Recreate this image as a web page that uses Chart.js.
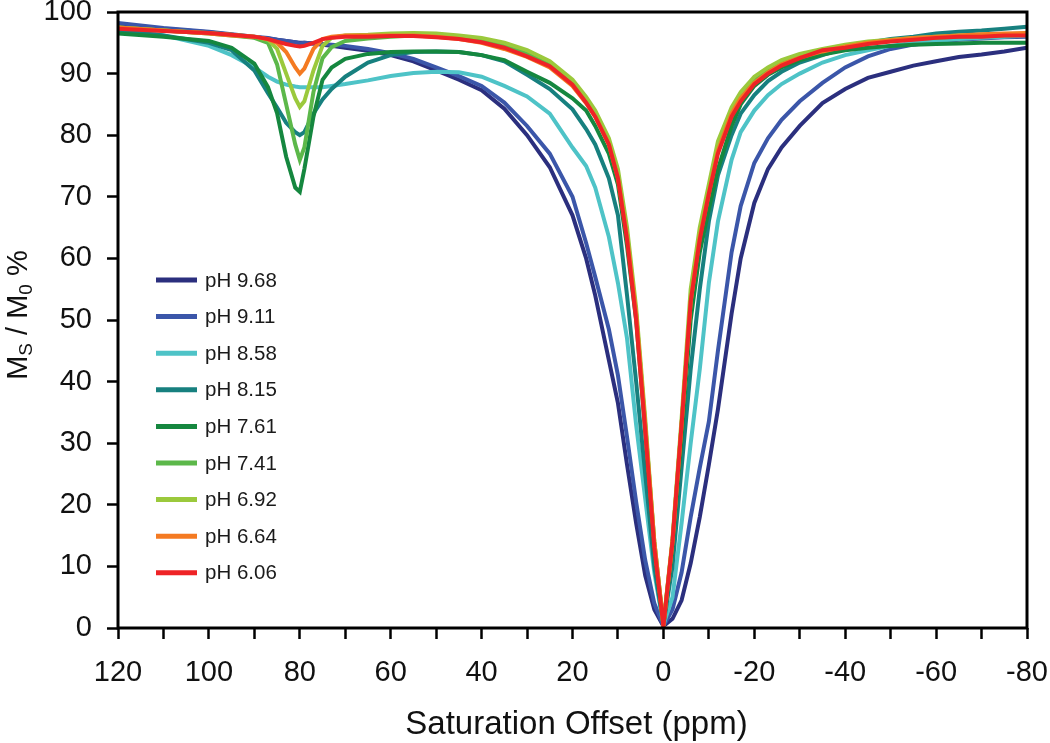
<!DOCTYPE html>
<html>
<head>
<meta charset="utf-8">
<title>Z-spectra vs pH</title>
<script src="https://cdn.jsdelivr.net/npm/chart.js@4.4.1/dist/chart.umd.min.js"></script>
<style>
  html, body { margin: 0; padding: 0; background: #fff; }
  #wrap { width: 1050px; height: 743px; position: relative; }
</style>
</head>
<body>
<div id="wrap"><canvas id="zspec"></canvas></div>
<script>
// saturation offsets (ppm) the curves were read at
const offsets = [120, 110, 100, 95, 90, 87, 85, 83, 81, 80, 79, 77, 75, 73,
  70, 65, 60, 55, 50, 45, 40, 35, 30, 25, 20,
  17, 15, 12, 10, 8, 6, 4, 2, 0,
  -2, -4, -6, -8, -10, -12,
  -15, -17, -20, -23, -26, -30,
  -35, -40, -45, -50, -55, -60, -65, -70, -75, -80];

const seriesLabels = ['pH 9.68', 'pH 9.11', 'pH 8.58', 'pH 8.15', 'pH 7.61', 'pH 7.41', 'pH 6.92', 'pH 6.64', 'pH 6.06'];
const seriesColors = ['#2b2f7e', '#3b56a9', '#4ec3c7', '#17807f', '#15873f', '#5cb84a', '#9bc93c', '#f47a22', '#ee2326'];

// Ms/M0 % per series
const ph968 = [98.0, 97.3, 96.7, 96.3, 95.9, 95.7, 95.5, 95.3, 95.1, 95.0, 95.0, 94.9, 94.7, 94.5,
  94.2, 93.7, 93.0, 92.0, 90.5, 89.0, 87.3, 84.3, 80.0, 74.8, 67.0,
  60.0, 54.0, 43.5, 36.5, 26.5, 17.0, 8.5, 3.0, 0.3,
  1.5, 4.5, 10.5, 18.0, 26.5, 35.5,
  51.0, 60.0, 69.0, 74.5, 78.0, 81.5,
  85.2, 87.5, 89.3, 90.3, 91.3, 92.0, 92.7, 93.1, 93.6, 94.2];
const ph911 = [98.2, 97.4, 96.8, 96.4, 96.0, 95.8, 95.5, 95.3, 95.1, 94.9, 95.0, 94.9, 94.8, 94.7,
  94.5, 94.0, 93.3, 92.4, 91.0, 89.6, 88.0, 85.3, 81.5, 77.0, 70.0,
  62.5, 57.0, 48.5, 41.0, 31.0, 20.5, 11.0, 4.0, 0.3,
  3.0, 9.0, 18.0, 26.0, 33.5, 45.0,
  61.0, 68.5, 75.5, 79.5, 82.5, 85.5,
  88.5, 91.0, 92.8, 94.0, 94.7, 95.2, 95.5, 95.7, 95.9, 96.0];
const ph858 = [97.5, 96.2, 94.5, 93.0, 91.0, 89.5, 88.7, 88.2, 87.9, 87.8, 87.8, 87.8, 87.8, 88.0,
  88.3, 88.9, 89.6, 90.1, 90.3, 90.2, 89.5, 88.0, 86.3, 83.5, 78.0,
  75.0, 71.5, 63.5, 56.0, 47.0, 33.0, 21.0, 9.0, 0.5,
  5.0, 17.0, 30.0, 42.0, 56.0, 66.0,
  76.0, 80.5, 84.0, 86.5, 88.3, 90.0,
  91.8, 93.0, 93.8, 94.5, 95.0, 95.3, 95.6, 95.8, 96.0, 96.2];
const ph815 = [97.0, 96.2, 95.0, 93.8, 90.5, 86.8, 84.5, 82.0, 80.5, 80.0, 80.5, 83.5, 85.8, 87.5,
  89.5, 91.8, 93.0, 93.5, 93.6, 93.5, 93.0, 92.0, 89.8, 87.5, 84.2,
  81.0, 78.5, 73.0, 67.0, 54.0, 40.0, 25.0, 10.0, 0.5,
  10.0, 26.0, 42.0, 55.0, 66.0, 73.5,
  80.0, 83.5, 86.5, 88.8, 90.3, 91.8,
  93.0, 94.2, 95.0, 95.6, 96.0, 96.5, 96.8, 97.0, 97.3, 97.6];
const ph761 = [96.5, 96.0, 95.3, 94.2, 91.6, 87.8, 83.6, 76.5, 71.5, 70.8, 74.5, 83.0, 89.0, 91.0,
  92.4, 93.2, 93.5, 93.6, 93.6, 93.5, 93.0, 92.2, 90.3, 88.5, 86.0,
  84.0, 81.5, 77.0, 72.0, 62.0, 50.0, 32.0, 13.0, 0.5,
  13.0, 31.0, 50.0, 61.0, 68.0, 74.5,
  81.5, 85.0, 88.0, 89.8, 91.0, 92.2,
  93.1, 93.8, 94.2, 94.5, 94.7, 94.8, 94.9, 95.0, 95.0, 95.0];
const ph741 = [97.5, 97.0, 96.5, 96.2, 95.8, 95.0, 91.5, 85.0, 78.5, 76.0, 78.0, 87.0, 92.5, 94.3,
  95.3, 95.7, 96.0, 96.2, 96.2, 96.0, 95.5, 94.6, 93.2, 91.4, 88.5,
  85.6, 83.2, 78.8, 73.5, 64.0, 51.0, 33.0, 14.0, 0.5,
  14.0, 33.0, 53.0, 63.5, 71.0, 77.5,
  83.5, 86.0, 88.8, 90.5, 91.7, 92.8,
  93.7, 94.5, 95.0, 95.3, 95.6, 95.8, 96.0, 96.1, 96.2, 96.3];
const ph692 = [97.5, 97.0, 96.6, 96.3, 96.0, 95.5, 94.0, 90.0, 86.0, 84.6, 85.5, 90.5, 94.5, 95.8,
  96.2, 96.3, 96.5, 96.6, 96.5, 96.2, 95.8, 95.0, 93.8, 92.0, 89.0,
  86.2, 84.0, 79.5, 74.5, 65.0, 52.0, 34.0, 14.0, 0.5,
  14.5, 34.0, 55.0, 65.0, 72.0, 79.0,
  84.5, 87.0, 89.5, 91.0, 92.2, 93.2,
  94.0, 94.7, 95.2, 95.5, 95.8, 96.0, 96.2, 96.3, 96.4, 96.5];
const ph664 = [97.5, 97.0, 96.5, 96.2, 96.0, 95.6, 95.0, 93.5, 91.0, 90.0, 90.8, 94.0, 95.6, 96.0,
  96.2, 96.2, 96.2, 96.2, 96.0, 95.6, 95.0, 94.0, 92.7, 91.0, 88.0,
  85.2, 83.0, 78.5, 73.0, 63.5, 51.0, 33.0, 14.0, 0.5,
  14.0, 33.0, 53.0, 63.5, 70.5, 77.5,
  83.5, 86.0, 88.5, 90.2, 91.5, 92.6,
  93.6, 94.4, 95.0, 95.4, 95.8, 96.0, 96.2, 96.4, 96.5, 96.6];
const ph606 = [97.3, 96.9, 96.6, 96.3, 96.0, 95.6, 95.2, 94.8, 94.5, 94.4, 94.5, 95.0, 95.6, 95.8,
  96.0, 96.0, 96.1, 96.1, 95.9, 95.6, 95.1, 94.2, 92.8, 91.2, 88.2,
  85.3, 83.0, 78.5, 73.0, 63.0, 50.0, 32.0, 13.0, 0.3,
  14.0, 33.0, 53.0, 63.0, 70.5, 77.0,
  83.0, 85.5, 88.3, 90.0, 91.3, 92.5,
  93.8, 94.2, 94.8, 95.2, 95.5, 95.8, 96.0, 96.0, 96.2, 96.2];

const seriesValues = [ph968, ph911, ph858, ph815, ph761, ph741, ph692, ph664, ph606];

const xTickLabels = [120, 100, 80, 60, 40, 20, 0, -20, -40, -60, -80];
const yTickLabels = [0, 10, 20, 30, 40, 50, 60, 70, 80, 90, 100];
const xTitle = 'Saturation Offset (ppm)';
const yTitleParts = [
  { t: 'M', sub: false }, { t: 'S', sub: true },
  { t: ' / M', sub: false }, { t: '0', sub: true },
  { t: ' %', sub: false }
];

const FONT = '"Liberation Sans", Arial, sans-serif';

const datasets = seriesValues.map((vals, i) => ({
  label: seriesLabels[i],
  data: offsets.map((x, j) => ({ x: x, y: vals[j] })),
  borderColor: seriesColors[i],
  backgroundColor: seriesColors[i],
  borderWidth: 4,
  pointRadius: 0,
  tension: 0,
  fill: false,
  order: seriesValues.length - 1 - i   // red ends up on top
}));

// frame, axis titles and the in-plot legend
const decorations = {
  id: 'decorations',
  afterDraw(chart) {
    const { ctx, chartArea: a } = chart;
    ctx.save();

    ctx.strokeStyle = '#000';
    ctx.lineWidth = 3;
    ctx.strokeRect(a.left, a.top, a.right - a.left, a.bottom - a.top);

    ctx.fillStyle = '#111';
    ctx.font = `33px ${FONT}`;
    ctx.textAlign = 'center';
    ctx.textBaseline = 'alphabetic';
    ctx.fillText(xTitle, (a.left + a.right) / 2 + 4, 734);

    // rotated y title with subscripts
    const big = `29px ${FONT}`, small = `19px ${FONT}`;
    let total = 0;
    yTitleParts.forEach(p => {
      ctx.font = p.sub ? small : big;
      p.w = ctx.measureText(p.t).width;
      total += p.w;
    });
    ctx.translate(27, 315);
    ctx.rotate(-Math.PI / 2);
    ctx.textAlign = 'left';
    let cx = -total / 2;
    yTitleParts.forEach(p => {
      ctx.font = p.sub ? small : big;
      ctx.fillText(p.t, cx, p.sub ? 5 : 0);
      cx += p.w;
    });
    ctx.setTransform(1, 0, 0, 1, 0, 0);

    // legend
    ctx.font = `20.5px ${FONT}`;
    ctx.textAlign = 'left';
    ctx.textBaseline = 'middle';
    chart.data.datasets.forEach((ds, i) => {
      const y = 280 + i * 36.6;
      ctx.strokeStyle = ds.borderColor;
      ctx.lineWidth = 5;
      ctx.beginPath();
      ctx.moveTo(156, y);
      ctx.lineTo(197, y);
      ctx.stroke();
      ctx.fillStyle = '#1a1a1a';
      ctx.fillText(ds.label, 205, y + 1);
    });

    ctx.restore();
  }
};

new Chart(document.getElementById('zspec'), {
  type: 'line',
  data: { datasets: datasets },
  options: {
    responsive: true,
    maintainAspectRatio: false,
    animation: false,
    events: [],
    layout: { padding: { top: 12, right: 23, left: 0, bottom: 0 } },
    plugins: {
      legend: { display: false },
      tooltip: { enabled: false }
    },
    scales: {
      x: {
        type: 'linear',
        reverse: true,
        min: -80,
        max: 120,
        afterFit: s => {
          s.height = 115;
          s.paddingLeft = 0;
          s.paddingRight = 0;
        },
        border: { display: false },
        grid: { drawOnChartArea: false, drawTicks: true, tickLength: 11, tickColor: '#000', tickWidth: 2.5 },
        ticks: {
          stepSize: 10,
          autoSkip: false,
          maxRotation: 0,
          padding: 17,
          color: '#111',
          font: { family: FONT, size: 29 },
          callback: v => xTickLabels.includes(v) ? String(v) : ''
        }
      },
      y: {
        min: 0,
        max: 100,
        afterFit: s => {
          s.width = 118;
          s.paddingTop = 0;
          s.paddingBottom = 0;
        },
        border: { display: false },
        grid: { drawOnChartArea: false, drawTicks: true, tickLength: 11, tickColor: '#000', tickWidth: 2.5 },
        ticks: {
          stepSize: 10,
          padding: 15,
          color: '#111',
          font: { family: FONT, size: 29 },
          callback: v => yTickLabels.includes(v) ? String(v) : ''
        }
      }
    }
  },
  plugins: [decorations]
});
</script>
</body>
</html>
